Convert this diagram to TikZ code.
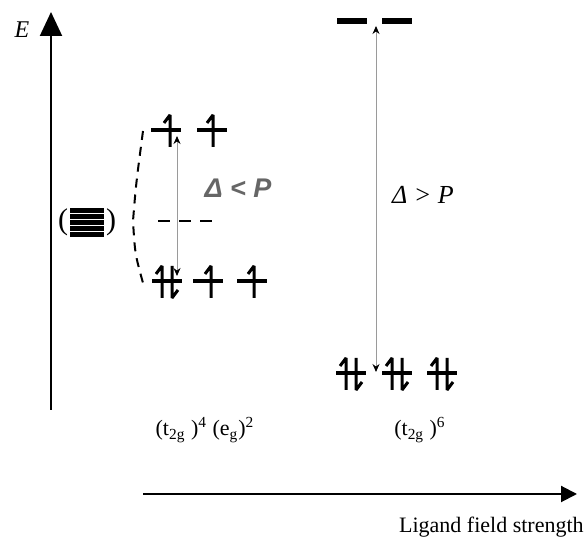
\documentclass[tikz,border=0pt]{standalone}
\usepackage{fontspec}
\setmainfont{Liberation Serif}
\newfontfamily\gapfont{Liberation Sans}
\usetikzlibrary{arrows.meta,positioning}
\definecolor{lfInk}{HTML}{000000}
\definecolor{lfGrey}{HTML}{9A9A9A}
\definecolor{lfSlate}{HTML}{666666}
\tikzset{
  lvl/.style={fill=lfInk, inner sep=0pt, minimum width=15pt, minimum height=2.2pt},
  lvlE/.style={lvl, minimum height=2.7pt},
  axis/.style={line width=1pt, -{Triangle[length=12pt,width=11pt]}},
  axisH/.style={line width=1pt, -{Triangle[length=8pt,width=8pt]}},
  gap/.style={lfGrey, line width=0.5pt, {Stealth[length=4pt,width=3.5pt,color=lfInk]}-{Stealth[length=4pt,width=3.5pt,color=lfInk]}},
  spin/.style={line width=1.5pt, line join=miter, miter limit=3},
  bary/.style={line width=1pt, dash pattern=on 6pt off 4.5pt},
  lbl/.style={font=\fontsize{11}{13}\selectfont, inner sep=1pt},
}
\begin{document}
\begin{tikzpicture}[x=0.5pt, y=0.5pt]
  \useasboundingbox (0,0) rectangle (588,544);
  % axes
  \coordinate (eLo) at (51,134);
  \coordinate (eHi) at (51,532);
  \coordinate (fLo) at (143,50);
  \coordinate (fHi) at (577,50);
  \draw[axis] (eLo) -- (eHi);
  \draw[axisH] (fLo) -- (fHi);
  \node[lbl, font=\fontsize{12}{14}\selectfont\itshape] (eLbl) at (22,514) {E};
  \node[lbl, anchor=east] (fLbl) at (586,17) {Ligand field strength};
  % free ion (degenerate d set)
  \node[lbl, font=\fontsize{15}{17}\selectfont] (pl) at (63,322) {(};
  \node[lbl, font=\fontsize{15}{17}\selectfont] (pr) at (111,322) {)};
  \foreach \k in {0,...,4}
    \fill[lfInk] (70,306.5+\k*6.1) rectangle ++(34,5.1);
  % weak field: high spin
  \node[lvl] (ea1) at (166,414) {};
  \node[lvl] (ea2) at (212,414) {};
  \node[lvl] (ta1) at (167,263) {};
  \node[lvl] (ta2) at (208,263) {};
  \node[lvl] (ta3) at (252,263) {};
  \coordinate (bcL) at (158,323);
  \coordinate (bcR) at (220,323);
  \draw[bary] (bcL) -- (bcR);
  \coordinate (spA) at (143,413);
  \coordinate (spM) at (133,323);
  \coordinate (spB) at (143,261);
  \draw[bary, dash pattern=on 4.5pt off 3.5pt] (spA) .. controls (136,360) .. (spM) .. controls (135,290) .. (spB);
  \foreach \lv/\dx in {ea1/4, ea2/1, ta2/3, ta3/2}
    \draw[spin] ([xshift=\dx*0.5pt, yshift=-8.5pt]\lv.center) -- ++(0,32) -- ++(-6,-8);
  \draw[spin] ([xshift=-2.5pt, yshift=-8.5pt]ta1.center) -- ++(0,32) -- ++(-6,-8);
  \draw[spin] ([xshift=2.5pt, yshift=7.5pt]ta1.center) -- ++(0,-32) -- ++(6,8);
  \coordinate (gA1) at (177,408);
  \coordinate (gA2) at (177,268);
  \draw[gap] (gA2) -- (gA1);
  \node[lbl, text=lfSlate, font=\fontsize{13.5}{15}\selectfont\gapfont\bfseries\itshape] (dA) at (238,356) {Δ < P};
  \node[lbl] (cfgA) at (205,114) {(t\textsubscript{2g} )\textsuperscript{4} (e\textsubscript{g})\textsuperscript{2}};
  % strong field: low spin
  \node[lvlE] (eb1) at (352,523) {};
  \node[lvlE] (eb2) at (397,523) {};
  \node[lvl] (tb1) at (351,171) {};
  \node[lvl] (tb2) at (397,171) {};
  \node[lvl] (tb3) at (442,171) {};
  \foreach \lv in {tb1, tb2, tb3} {
    \draw[spin] ([xshift=-2.5pt, yshift=-8.5pt]\lv.center) -- ++(0,32) -- ++(-6,-8);
    \draw[spin] ([xshift=2.5pt, yshift=7.5pt]\lv.center) -- ++(0,-32) -- ++(6,8);
  }
  \coordinate (gB1) at (376,518);
  \coordinate (gB2) at (376,172);
  \draw[gap] (gB2) -- (gB1);
  \node[lbl, font=\fontsize{13}{15}\selectfont\itshape] (dB) at (423,349) {Δ > P};
  \node[lbl] (cfgB) at (420,114) {(t\textsubscript{2g} )\textsuperscript{6}};
\end{tikzpicture}
\end{document}
